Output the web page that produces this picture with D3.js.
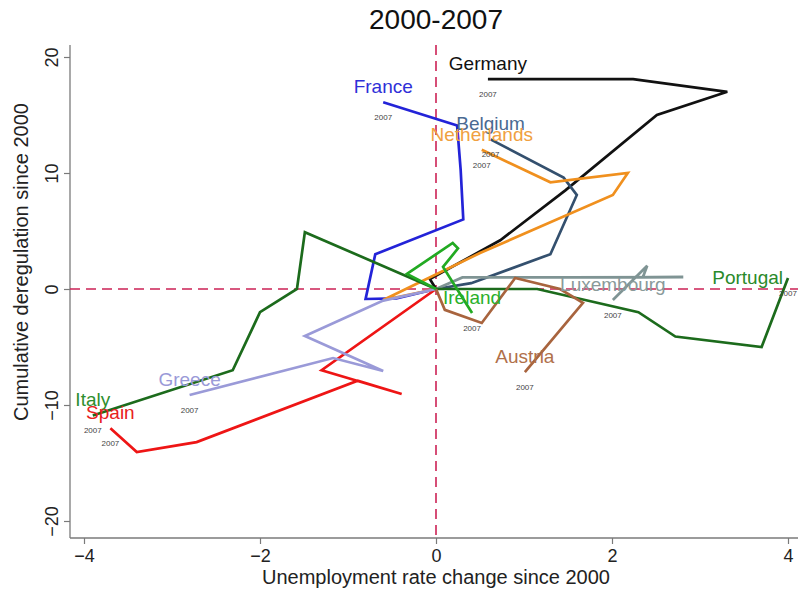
<!DOCTYPE html>
<html>
<head>
<meta charset="utf-8">
<script src="https://cdn.jsdelivr.net/npm/d3@7"></script>
<style>
  html, body { margin: 0; padding: 0; background: #fff; }
  svg { display: block; font-family: "Liberation Sans", Arial, sans-serif; }
</style>
</head>
<body>
<svg id="chart" width="798" height="600"></svg>
<script>
// Paths 2000 -> 2007: [unemployment change, cumulative deregulation]
const germany     = [[0,0],[-0.07,0.86],[0.73,4.2],[1.47,8.5],[2.51,15.0],[3.31,17.0],[2.24,18.1],[0.59,18.1]];
const france      = [[0,0],[-0.45,-0.8],[-0.80,-0.86],[-0.69,3.0],[0.31,6.0],[0.28,10.3],[0.24,14.1],[-0.60,16.1]];
const belgium     = [[0,0],[0.4,0.5],[1.3,3.0],[1.6,8.1],[1.45,9.6],[0.62,12.9]];
const netherlands = [[0,0],[-0.6,-0.95],[0.5,3.1],[2.01,8.1],[2.18,10.0],[1.3,9.2],[0.52,12.0]];
const luxembourg  = [[0,0],[0.3,1.0],[1.5,1.0],[2.81,1.03],[2.35,1.0],[2.40,2.0],[2.01,-0.95]];
const portugal    = [[0,0],[1.15,0],[2.3,-2.0],[2.72,-4.1],[3.7,-5.0],[4.0,0.95]];
const italy       = [[0,0],[-1.49,4.9],[-1.58,0],[-2.0,-2.0],[-2.31,-7.0],[-3.9,-10.9]];
const spain       = [[0,0],[-1.30,-7.0],[-0.39,-9.05],[-0.89,-7.9],[-2.72,-13.2],[-3.40,-14.05],[-3.70,-12.0]];
const greece      = [[0,0],[-0.6,-1.0],[-1.49,-4.05],[-0.60,-7.07],[-1.17,-5.95],[-2.80,-9.14]];
const austria     = [[0,0],[0.10,-1.8],[0.52,-2.93],[0.90,0.95],[1.41,0],[1.67,-1.2],[1.01,-7.16]];
const ireland     = [[0,0],[-0.33,1.3],[0.19,3.97],[0.25,3.5],[0.08,1.9],[0.41,-2.07]];

const countries = ["Germany","France","Belgium","Netherlands","Luxembourg","Portugal","Italy","Spain","Greece","Austria","Ireland"];
const paths     = [germany, france, belgium, netherlands, luxembourg, portugal, italy, spain, greece, austria, ireland];
const lineColors  = ["#111111","#2323d8","#34506e","#f0901e","#7f9494","#1c6b1c","#1c6b1c","#ee1515","#9a9ad8","#a8643e","#22aa22"];
const labelColors = ["#111111","#2f2fd8","#4a6a92","#f0a040","#8a9a9a","#2a8a2a","#2e8e2e","#e82020","#9a9ad8","#b0704a","#2ab02a"];
const endYear = "2007";

const xTicks = [-4,-2,0,2,4];
const yTicks = [-20,-10,0,10,20];
const title = "2000-2007";
const xTitle = "Unemployment rate change since 2000";
const yTitle = "Cumulative deregulation since 2000";

const svg = d3.select("#chart");
const x = d3.scaleLinear().domain([-4, 4]).range([84, 788]);
const y = d3.scaleLinear().domain([-20, 20]).range([521, 57]);

const axisLeftX = 70, axisBottomY = 538;
const axisColor = "#7a7a7a";

// Title
svg.append("text").attr("x", x(0)).attr("y", 29).attr("text-anchor", "middle")
  .attr("font-size", 28).attr("fill", "#111").text(title);

// Axes
const xAxis = svg.append("g").attr("transform", `translate(0,${axisBottomY})`)
  .call(d3.axisBottom(x).tickValues(xTicks).tickSize(6).tickPadding(4).tickFormat(d3.format("d")));
xAxis.select(".domain").attr("d", `M${axisLeftX},0H798`);
const yAxis = svg.append("g").attr("transform", `translate(${axisLeftX},0)`)
  .call(d3.axisLeft(y).tickValues(yTicks).tickSize(6).tickPadding(4).tickFormat(d3.format("d")));
yAxis.select(".domain").attr("d", `M0,45V${axisBottomY}`);
[xAxis, yAxis].forEach(gx => {
  gx.select(".domain").attr("stroke", axisColor).attr("stroke-width", 1.3);
  gx.selectAll(".tick line").attr("stroke", axisColor).attr("stroke-width", 1.2);
  gx.selectAll(".tick text").attr("font-size", 18).attr("fill", "#222")
    .attr("font-family", "Liberation Sans, Arial, sans-serif");
});
xAxis.selectAll(".tick text").attr("dy", "0.8em");
// rotated y tick labels
yAxis.selectAll(".tick text")
  .attr("transform", "rotate(-90)")
  .attr("x", 0).attr("y", -12).attr("dy", 0)
  .attr("text-anchor", "middle");

svg.append("text").attr("x", x(0)).attr("y", 584).attr("text-anchor", "middle")
  .attr("font-size", 20).attr("fill", "#222").text(xTitle);
svg.append("text").attr("transform", `translate(28,262) rotate(-90)`)
  .attr("text-anchor", "middle").attr("font-size", 20).attr("fill", "#222").text(yTitle);

// Reference lines at zero
const refColor = "#cc2255";
svg.append("line").attr("x1", x(0)).attr("x2", x(0)).attr("y1", 45).attr("y2", axisBottomY)
  .attr("stroke", refColor).attr("stroke-width", 1.6).attr("stroke-dasharray", "10,6");
svg.append("line").attr("x1", axisLeftX).attr("x2", 798).attr("y1", y(0)).attr("y2", y(0))
  .attr("stroke", refColor).attr("stroke-width", 1.6).attr("stroke-dasharray", "10,6");

// Country paths
const line = d3.line().x(d => x(d[0])).y(d => y(d[1]));
const g = svg.append("g");
paths.forEach((p, i) => {
  g.append("path").attr("d", line(p)).attr("fill", "none")
    .attr("stroke", lineColors[i]).attr("stroke-width", 2.7)
    .attr("stroke-linejoin", "miter").attr("stroke-linecap", "butt");
});

// End-year labels and country names
const lab = svg.append("g");
paths.forEach((p, i) => {
  const end = p[p.length - 1];
  const ex = x(end[0]), ey = y(end[1]);
  lab.append("text").attr("x", ex).attr("y", ey + 18).attr("text-anchor", "middle")
    .attr("font-size", 8).attr("fill", "#444").text(endYear);
  const t = lab.append("text").attr("font-size", 19).attr("fill", labelColors[i]).text(countries[i]);
  if (countries[i] === "Portugal") {
    t.attr("x", ex - 5).attr("y", ey + 6).attr("text-anchor", "end");
  } else {
    t.attr("x", ex).attr("y", ey - 9).attr("text-anchor", "middle");
  }
});
</script>
</body>
</html>
